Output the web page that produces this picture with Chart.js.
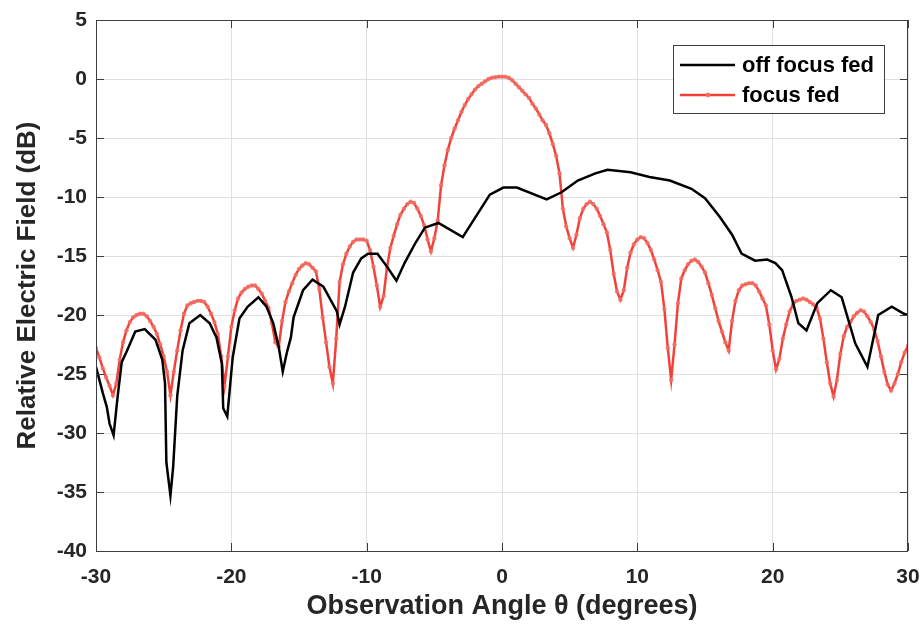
<!DOCTYPE html>
<html lang="en">
<head>
    <meta charset="UTF-8">
    <title>Relative Electric Field vs Observation Angle</title>
    <script src="https://cdn.jsdelivr.net/npm/chart.js"></script>
    <style>
        body { margin: 0; background: #fff; }
        #wrap { width: 924px; height: 631px; }
    </style>
</head>
<body>
    <div id="wrap"><canvas id="patternChart" width="924" height="631"></canvas></div>

    <script>
        // focus fed: sampled every 0.25 degree from -30 to 30
        const focusStart = -30;
        const focusStep = 0.25;
        const focusFed = [
            -22.8, -23.6, -24.5, -25.3, -26.0, -26.8, -25.8, -23.8, -22.3, -21.3, -20.6, -20.2,
            -20.0, -19.9, -19.9, -20.1, -20.5, -21.0, -21.6, -22.5, -23.5, -24.8, -26.8, -24.8,
            -23.0, -21.3, -19.9, -19.2, -19.0, -18.9, -18.8, -18.8, -18.9, -19.3, -19.9, -20.6,
            -21.6, -23.5, -26.0, -23.5, -21.0, -19.6, -18.6, -18.1, -17.8, -17.6, -17.5, -17.5,
            -17.8, -18.2, -18.8, -19.4, -20.7, -22.3, -22.7, -20.5, -18.9, -18.0, -17.3, -16.6,
            -16.1, -15.8, -15.6, -15.7, -16.0, -16.3, -17.8, -20.2, -22.3, -24.4, -25.8, -22.0,
            -17.2, -15.7, -14.8, -14.2, -13.8, -13.6, -13.6, -13.6, -13.7, -14.5, -15.9, -17.5,
            -19.3, -18.4, -16.0, -14.3, -13.3, -12.3, -11.5, -11.0, -10.6, -10.4, -10.5, -11.0,
            -11.6, -12.4, -13.6, -14.6, -13.5, -12.0, -9.0, -7.3, -6.0, -5.0, -4.2, -3.5,
            -2.8, -2.2, -1.7, -1.3, -0.9, -0.6, -0.4, -0.2, 0.0, 0.1, 0.15, 0.2,
            0.2, 0.2, 0.1, -0.1, -0.4, -0.7, -1.0, -1.3, -1.6, -2.1, -2.5, -3.0,
            -3.5, -3.9, -4.6, -5.5, -6.5, -8.0, -11.0, -12.5, -13.5, -14.3, -13.2, -11.8,
            -11.0, -10.6, -10.4, -10.6, -11.0, -11.6, -12.3, -13.0, -14.5, -16.5, -18.0, -18.7,
            -17.9, -16.0, -14.7, -14.0, -13.6, -13.4, -13.5, -13.9, -14.5, -15.3, -16.2, -17.2,
            -19.5, -22.8, -25.5, -22.5, -19.0, -16.9, -16.2, -15.7, -15.4, -15.3, -15.5, -15.9,
            -16.4, -17.3, -18.3, -19.4, -20.5, -21.4, -22.3, -23.0, -20.5, -18.8, -17.9, -17.5,
            -17.4, -17.3, -17.3, -17.5, -18.0, -18.6, -19.2, -20.8, -23.0, -24.6, -23.7, -22.0,
            -20.8, -19.7, -19.1, -18.8, -18.7, -18.6, -18.7, -18.9, -19.1, -19.4, -20.3, -22.0,
            -24.0, -25.8, -26.9, -25.5, -23.3, -21.8, -21.0, -20.6, -20.1, -19.8, -19.6, -19.7,
            -20.1, -20.6, -21.2, -22.2, -23.5, -24.8, -25.9, -26.4, -25.8, -25.0, -24.0, -23.2,
            -22.6
        ];

        // off focus fed: irregularly spaced samples
        const offAngles = [
            -30, -29.5, -29.2, -29.0, -28.7, -28.4, -28.1, -27.7, -27.1, -26.4, -25.6, -25.1,
            -24.9, -24.8, -24.5, -24.3, -24.0, -23.6, -23.1, -22.3, -21.6, -21.1, -20.7, -20.6,
            -20.3, -19.9, -19.4, -18.8, -18.0, -17.4, -16.9, -16.5, -16.2, -15.9, -15.6, -15.4,
            -14.7, -14.0, -13.2, -12.2, -12.0, -11.6, -11.0, -10.4, -9.9, -9.2, -8.5, -7.8,
            -7.2, -6.4, -5.7, -4.7, -2.9, -0.9, 0.1, 1.1, 3.3, 4.4, 5.6, 6.9,
            7.8, 9.5, 10.9, 12.4, 14.0, 15.0, 16.1, 17.0, 17.7, 18.7, 19.6, 20.2,
            20.7, 21.4, 21.9, 22.5, 23.3, 24.3, 25.1, 26.1, 27.0, 27.8, 28.8, 29.7, 30
        ];
        const offFocusFed = [
            -24.4, -26.6, -27.8, -29.2, -30.2, -26.9, -24.0, -23.0, -21.4, -21.2, -22.1, -23.8,
            -25.8, -32.5, -35.3, -32.9, -26.9, -23.0, -20.7, -20.0, -20.7, -21.9, -24.1, -27.9,
            -28.6, -23.6, -20.3, -19.3, -18.5, -19.3, -20.7, -22.7, -24.8, -23.2, -21.9, -20.2,
            -17.9, -17.0, -17.6, -19.7, -20.8, -19.3, -16.4, -15.2, -14.8, -14.8, -15.9, -17.1,
            -15.6, -13.9, -12.6, -12.2, -13.4, -9.8, -9.2, -9.2, -10.2, -9.6, -8.6, -8.0,
            -7.7, -7.9, -8.3, -8.6, -9.3, -10.1, -11.7, -13.2, -14.8, -15.4, -15.3, -15.6,
            -16.2, -18.5, -20.7, -21.3, -19.0, -17.9, -18.5, -22.4, -24.4, -20.0, -19.3, -19.9, -20.0
        ];

        const seriesLabels = ['off focus fed', 'focus fed'];
        const xTicks = [-30, -20, -10, 0, 10, 20, 30];
        const yTicks = [5, 0, -5, -10, -15, -20, -25, -30, -35, -40];

        const focusPts = focusFed.map((v, i) => ({ x: focusStart + i * focusStep, y: v }));
        const offPts = offFocusFed.map((v, i) => ({ x: offAngles[i], y: v }));

        // frame, inner ticks and a matlab-like legend box in the top right
        const framePlugin = {
            id: 'frame',
            afterDraw(chart) {
                const c = chart.ctx;
                const a = chart.chartArea;
                const xs = chart.scales.x, ys = chart.scales.y;
                c.save();
                c.strokeStyle = '#3a3f44';
                c.lineWidth = 1;
                c.strokeRect(a.left + 0.5, a.top + 0.5, a.right - a.left - 1, a.bottom - a.top);
                c.beginPath();
                xTicks.forEach(t => {
                    const px = Math.round(xs.getPixelForValue(t)) + 0.5;
                    c.moveTo(px, a.bottom); c.lineTo(px, a.bottom - 8);
                    c.moveTo(px, a.top); c.lineTo(px, a.top + 8);
                });
                yTicks.forEach(t => {
                    const py = Math.round(ys.getPixelForValue(t)) + 0.5;
                    c.moveTo(a.left, py); c.lineTo(a.left + 8, py);
                    c.moveTo(a.right, py); c.lineTo(a.right - 8, py);
                });
                c.stroke();

                // legend
                const bx = a.right - 235, by = a.top + 25, bw = 211, bh = 68;
                c.fillStyle = '#ffffff';
                c.fillRect(bx, by, bw, bh);
                c.strokeStyle = '#3a3f44';
                c.strokeRect(bx + 0.5, by + 0.5, bw, bh);
                c.font = 'bold 22px "Liberation Sans"';
                c.textBaseline = 'middle';
                chart.data.datasets.forEach((ds, i) => {
                    const ly = by + 20 + i * 30;
                    c.strokeStyle = ds.borderColor;
                    c.lineWidth = 2.5;
                    c.beginPath();
                    c.moveTo(bx + 7, ly); c.lineTo(bx + 62, ly);
                    c.stroke();
                    if (ds.pointRadius > 0) {
                        c.fillStyle = ds.backgroundColor;
                        c.beginPath();
                        c.arc(bx + 35, ly, 2.4, 0, Math.PI * 2);
                        c.fill();
                    }
                    c.fillStyle = '#000';
                    c.fillText(ds.label, bx + 69, ly + 1);
                });
                c.restore();
            }
        };

        const chart = new Chart(document.getElementById('patternChart'), {
            type: 'line',
            data: {
                datasets: [
                    {
                        label: seriesLabels[0],
                        data: offPts,
                        borderColor: '#000000',
                        backgroundColor: '#000000',
                        borderWidth: 2.5,
                        pointRadius: 0,
                        tension: 0
                    },
                    {
                        label: seriesLabels[1],
                        data: focusPts,
                        borderColor: '#f2403a',
                        backgroundColor: 'rgba(245,110,100,0.85)',
                        borderWidth: 2.5,
                        pointRadius: 2.2,
                        pointBorderWidth: 0,
                        tension: 0
                    }
                ]
            },
            options: {
                responsive: false,
                animation: false,
                layout: { padding: { top: 20, right: 16, left: 0, bottom: 0 } },
                plugins: {
                    legend: { display: false },
                    tooltip: { enabled: false }
                },
                scales: {
                    x: {
                        type: 'linear',
                        min: -30,
                        max: 30,
                        afterFit: s => { s.height = 80; s.paddingLeft = 0; s.paddingRight = 0; },
                        afterBuildTicks: s => { s.ticks = xTicks.map(v => ({ value: v })); },
                        ticks: {
                            color: '#262626',
                            font: { family: 'Liberation Sans', weight: 'bold', size: 21 },
                            padding: 14,
                            maxRotation: 0
                        },
                        grid: { color: '#dde1e6', drawTicks: false },
                        border: { display: false },
                        title: {
                            display: true,
                            text: 'Observation Angle θ (degrees)',
                            color: '#262626',
                            font: { family: 'Liberation Sans', weight: 'bold', size: 27 },
                            padding: { top: 2, bottom: 8 }
                        }
                    },
                    y: {
                        min: -40,
                        max: 5,
                        afterFit: s => { s.width = 96; s.paddingTop = 0; s.paddingBottom = 0; },
                        afterBuildTicks: s => { s.ticks = yTicks.map(v => ({ value: v })); },
                        ticks: {
                            color: '#262626',
                            font: { family: 'Liberation Sans', weight: 'bold', size: 21 },
                            padding: 9
                        },
                        grid: { color: '#dde1e6', drawTicks: false },
                        border: { display: false },
                        title: {
                            display: true,
                            text: 'Relative Electric Field (dB)',
                            color: '#262626',
                            font: { family: 'Liberation Sans', weight: 'bold', size: 26 },
                            padding: { top: 12, bottom: 2 }
                        }
                    }
                }
            },
            plugins: [framePlugin]
        });
    </script>
</body>
</html>
